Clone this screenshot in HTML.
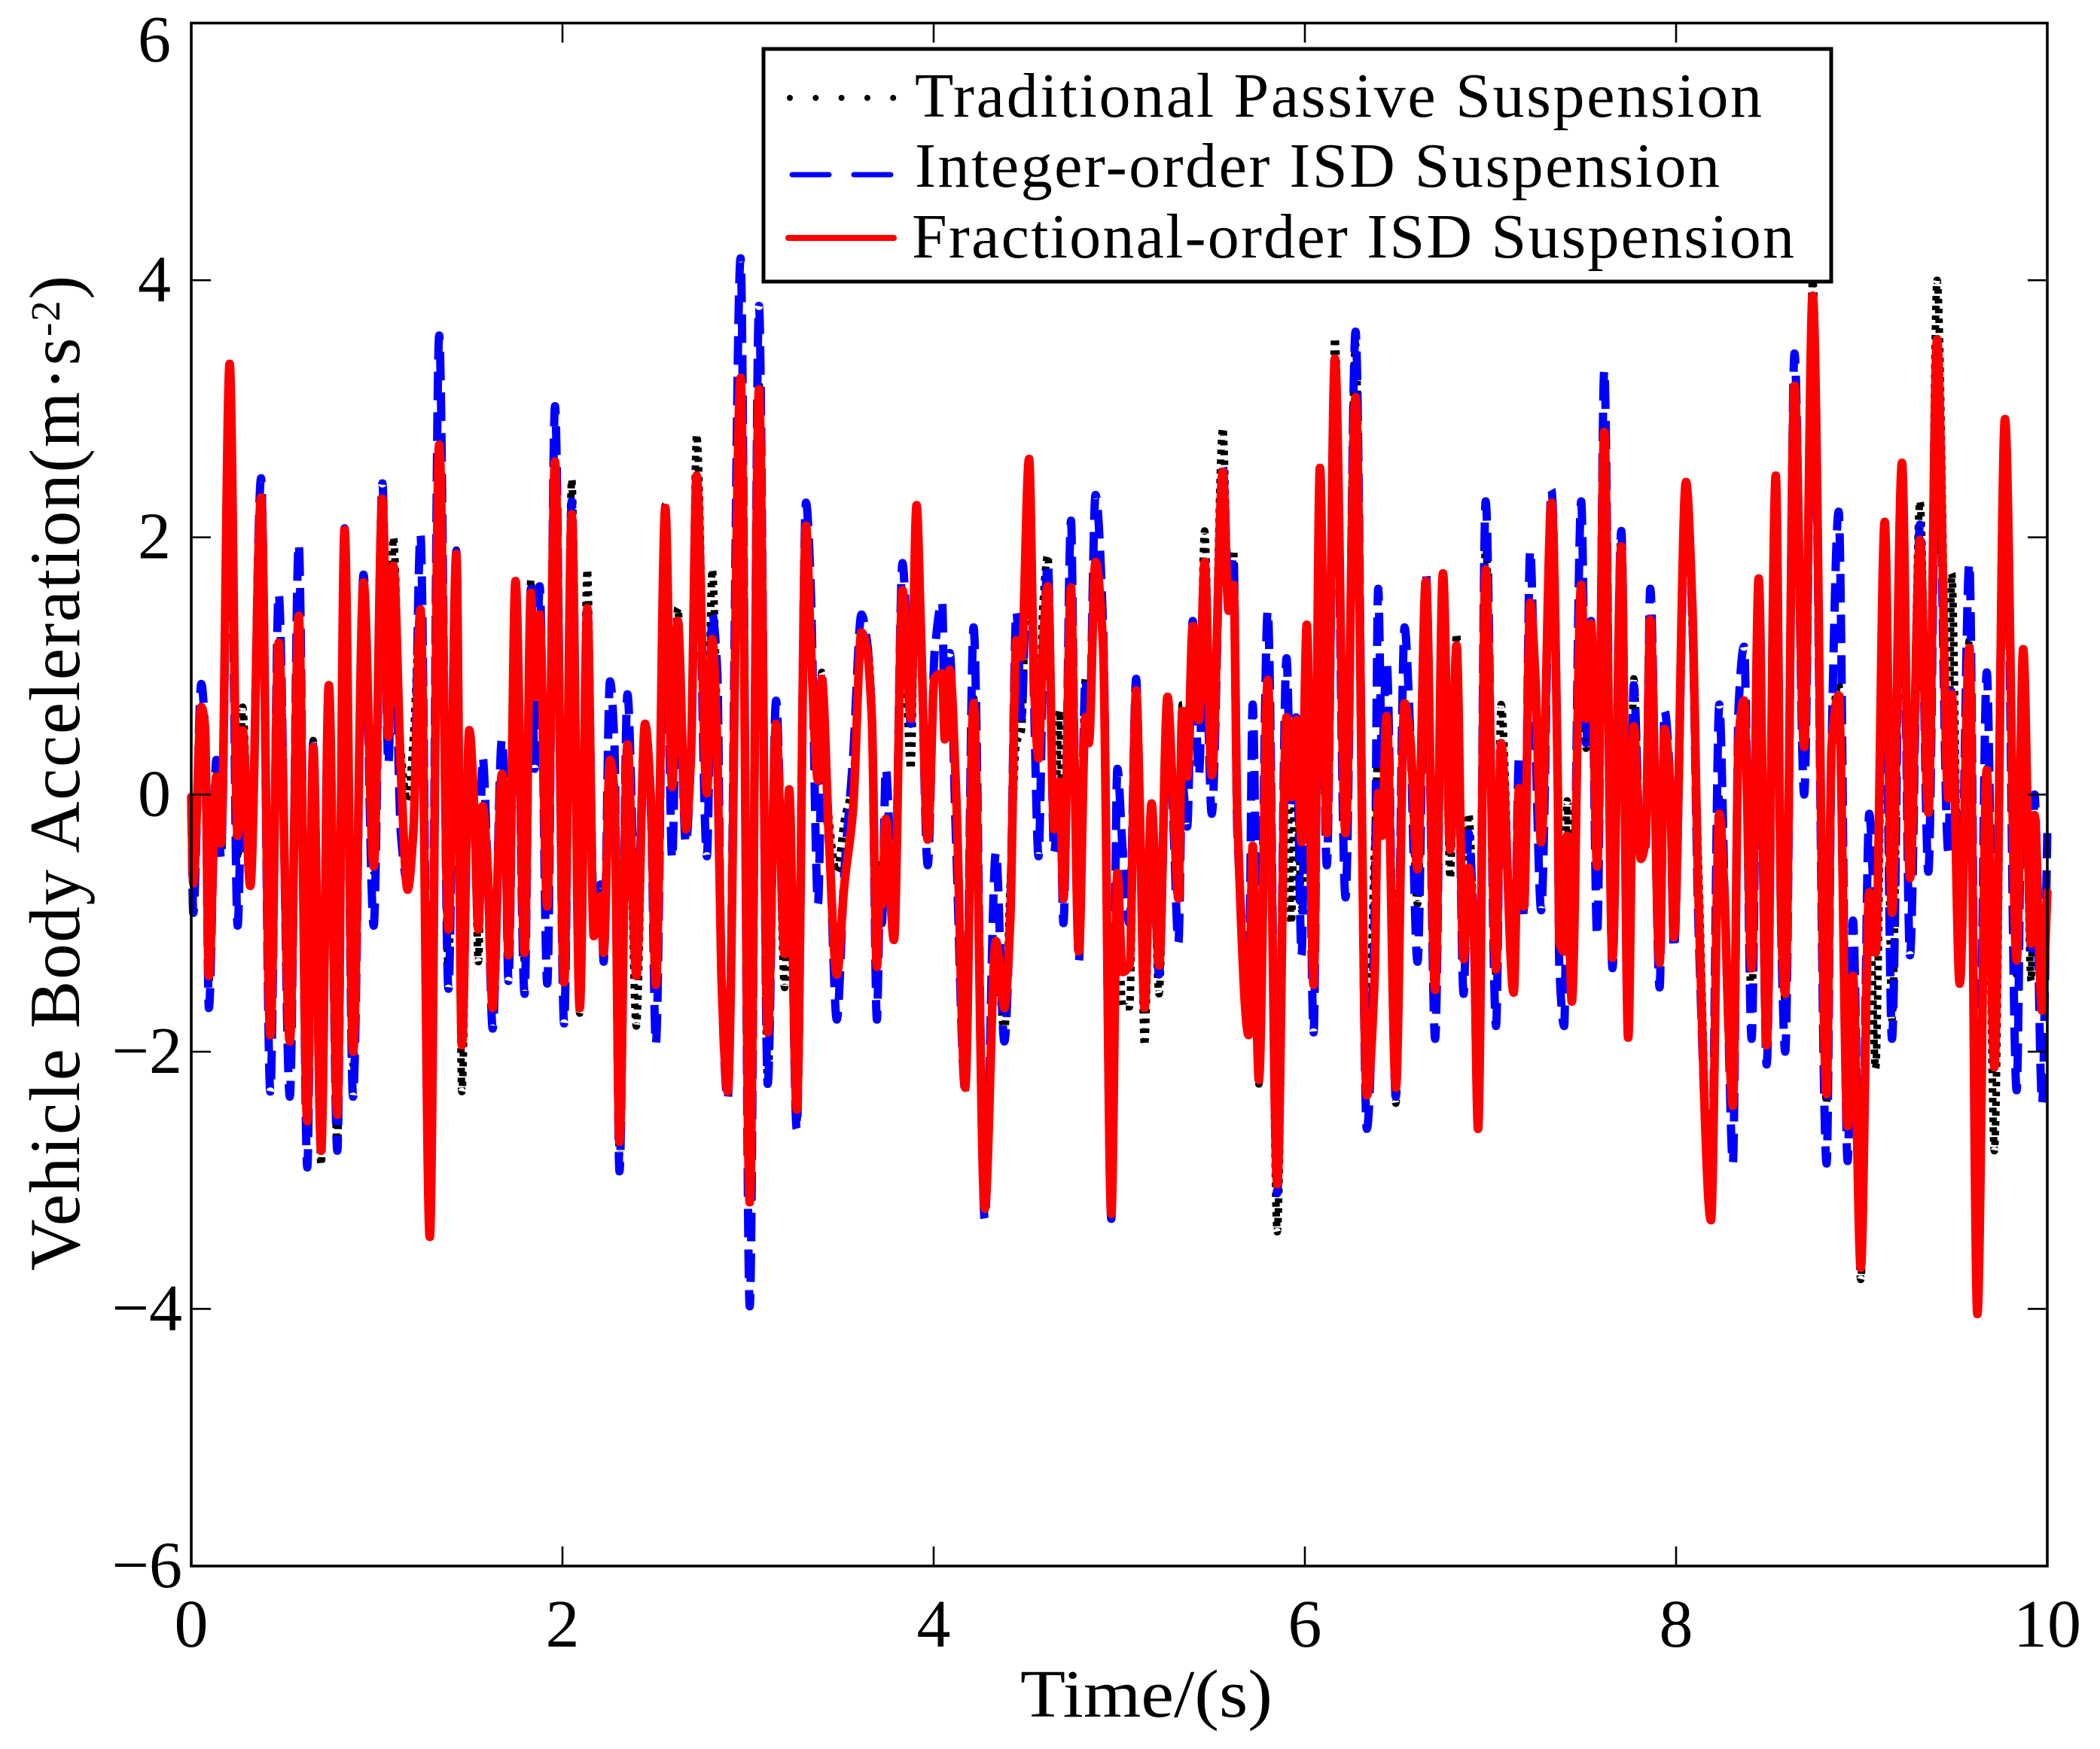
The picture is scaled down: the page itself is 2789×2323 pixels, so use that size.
<!DOCTYPE html>
<html lang="en">
<head>
<meta charset="utf-8">
<title>Vehicle Body Acceleration</title>
<style>
html,body{margin:0;padding:0;background:#fff;width:2789px;height:2323px;overflow:hidden}
svg{display:block;font-family:"Liberation Serif",serif;fill:#000}
</style>
</head>
<body>
<svg id="chart" xmlns="http://www.w3.org/2000/svg" width="2789" height="2323" viewBox="0 0 2789 2323">
  <rect x="0" y="0" width="2789" height="2323" fill="#fff"/>
  <g id="series-layer"></g>
  <g id="tick-layer"></g>
  <rect x="254" y="30.6" width="2465" height="2049.4" fill="none" stroke="#000" stroke-width="3.6"/>
  <g id="label-layer"></g>
  <text x="1355" y="2280" font-size="90" textLength="335" lengthAdjust="spacingAndGlyphs">Time/(s)</text>
  <text transform="translate(105 1688) rotate(-90)" font-size="95" textLength="1322">Vehicle Body Acceleration(m·s<tspan font-size="55" dy="-26">-2</tspan><tspan dy="26">)</tspan></text>
  <g>
    <rect x="1014" y="65" width="1418" height="309" fill="#fff" stroke="#000" stroke-width="5"/>
    <line x1="1049" y1="130" x2="1187" y2="130" stroke="#000" stroke-width="8" stroke-linecap="round" stroke-dasharray="0 34.3"/>
    <line x1="1052" y1="232" x2="1183" y2="232" stroke="#00f" stroke-width="7" stroke-linecap="round" stroke-dasharray="49 33"/>
    <line x1="1047" y1="316" x2="1187" y2="316" stroke="#f00" stroke-width="8" stroke-linecap="round"/>
    <text x="1215" y="155" font-size="84" textLength="1125">Traditional Passive Suspension</text>
    <text x="1215" y="248" font-size="84" textLength="1069">Integer-order ISD Suspension</text>
    <text x="1211" y="342" font-size="84" textLength="1172">Fractional-order ISD Suspension</text>
  </g>
</svg>
<script>
const xTickValues = [0, 2, 4, 6, 8, 10];
const yTickValues = [6, 4, 2, 0, -2, -4, -6];
const timeSeconds = [
0,.011,.054,.074,.095,.135,.16,.207,.25,.277,.318,.376,.426,.471,.531,.579,.625,.657,.70,.741,.787,.826,.872,.928,.983,1.03,1.062,1.089,1.129,1.166,1.197,1.235,1.285,1.336,1.386,1.428,
1.458,1.498,1.525,1.547,1.57,1.597,1.624,1.674,1.692,1.709,1.747,1.796,1.83,1.85,1.877,1.918,1.96,2.009,2.05,2.093,2.134,2.169,2.206,2.222,2.256,2.28,2.307,2.35,2.398,2.445,2.476,2.503,2.554,2.591,2.621,2.665,2.692,2.723,2.778,2.807,2.834,2.856,
2.89,2.96,3.009,3.059,3.106,3.151,3.197,3.221,3.262,3.312,3.336,3.377,3.397,3.437,3.478,3.519,3.566,3.611,3.64,3.667,3.694,3.711,3.721,3.742,3.786,3.832,3.877,3.908,3.931,3.968,4.005,4.046,4.06,4.087,4.12,4.17,4.215,4.275,
4.335,4.381,4.412,4.446,4.473,4.514,4.541,4.565,4.588,4.615,4.649,4.679,4.699,4.74,4.757,4.782,4.818,4.836,4.872,4.913,4.957,4.99,5.017,5.055,5.091,5.109,5.136,5.174,5.214,5.26,5.291,5.319,5.339,5.366,5.396,5.429,5.46,5.498,5.558,5.589,5.616,5.636,5.697,
5.719,5.752,5.8,5.851,5.901,5.926,5.953,5.982,6.01,6.047,6.081,6.118,6.162,6.219,6.273,6.334,6.375,6.395,6.415,6.44,6.49,6.537,6.567,6.607,6.652,6.702,6.744,6.783,6.817,6.855,6.882,6.909,6.933,6.974,7.03,7.057,7.125,
7.154,7.18,7.214,7.241,7.273,7.329,7.363,7.37,7.397,7.413,7.438,7.489,7.515,7.542,7.575,7.613,7.657,7.705,7.742,7.772,7.81,7.836,7.861,7.911,7.938,7.968,7.988,8.053,8.087,8.12,8.188,8.233,8.262,8.283,8.306,8.337,8.366,8.407,8.445,8.488,8.537,8.568,
8.588,8.638,8.69,8.736,8.811,8.838,8.876,8.924,8.953,8.995,9.041,9.075,9.124,9.163,9.217,9.26,9.314,9.359,9.406,9.467,9.485,9.528,9.58,9.623,9.674,9.715,9.772,9.835,9.87,9.913,9.931,9.972,10
];
const traditionalPassive = [
0,-.7,.7,.55,-1.45,.1,-.3,3.1,-.5,.68,-.7,2.3,-1.9,1.2,-1.95,1.4,-2.6,.42,-2.88,.87,-2.77,2.07,-2.1,1.65,-.6,2.35,.5,2,.35,-.05,.45,1.45,-3.3,2.7,-1.36,1.9,
-2.31,.5,-.1,-1.3,-.1,-.6,-1.7,.15,-.2,-1.3,1.6,-1.3,1.67,.8,1.4,-.9,2.6,-1.5,2.45,-1.7,1.75,-1.1,-.75,-1.2,.3,0,-2.8,.4,-1.8,.55,-.1,-1.5,2.25,.1,1.45,-.2,.3,2.8,.1,1.75,.5,-1.3,
-2.2,3.2,-3.2,3.2,-2.25,.55,-1.5,.05,-2.55,2.1,1.2,.1,.95,-.2,-.6,-.2,.1,1.25,1.2,.7,-1.3,-.5,-.8,-.2,-1.1,1.5,.2,2.25,1.3,-.3,.9,.95,.5,1,.1,-2.3,.75,-3.2,
-1.15,-1.85,-.7,.4,.5,2.6,.9,.3,1.45,1.86,-.3,.65,-.8,1.6,.4,-1.2,.9,.5,1.8,1.2,-3.2,-.6,-1.65,-1.65,.8,0,-1.95,-.1,-1.55,.75,-.1,-.8,.7,.2,1.2,.6,2.05,.15,2.85,1.5,1.9,-.1,-1.8,
-.4,-2.25,.9,-3.4,.6,-1,.55,-.9,1.3,-1.5,2.5,-.3,3.55,-.3,3.5,-2.3,-.45,.35,.2,.6,-2.4,.7,.4,-.85,1.6,-1.6,1.7,-.65,1.25,-1.2,-.15,-1,-2.55,1.95,-1.4,.7,-1.55,
.05,-.9,1.5,.95,-.45,2.2,0,-1,-.95,-.05,-1.6,1.65,.36,1.3,-.6,2.8,-1.25,2.05,-1.85,.9,-.45,-.3,1.35,-1.3,.5,.1,-1.15,2.35,1.3,-.5,-3.3,0,-.8,-1.8,-2.4,.4,.75,-1.65,1.65,-1.95,2.4,-1.1,
-1.6,3.15,.35,4,-2.4,.4,.87,-2.6,-1.4,-3.77,-.8,-2.13,2.1,-1.75,2.5,-.65,2.28,-.1,4,.2,1.72,-1.45,1.2,-3.9,.2,-2.77,2.85,-1.4,1.1,-1.45,-.2,-1.7,-.8
];
const integerOrder = [
-.1,-.92,.86,.5,-1.66,.27,-.5,3.26,-1.02,.3,-.71,2.46,-2.31,1.56,-2.35,1.95,-2.9,.42,-2.7,.86,-2.77,2.07,-2.35,1.71,-1.02,2.42,.24,1.74,-.3,-.69,-.3,2.02,-3.31,3.57,-1.51,1.89,
-1.9,.3,-.1,-.9,.29,-.6,-1.82,.43,-.2,-1.45,1.65,-1.55,1.6,.2,1.62,-1.47,3.02,-1.78,2.28,-1.66,1.4,-.9,-.7,-1.3,.88,.4,-2.93,.78,-1.1,.5,-.1,-1.94,2.23,-.5,1.3,-.38,.3,2.45,-.48,1.4,.96,-1.4,
-2.37,4.17,-3.98,3.8,-2.25,.73,-1.2,0,-2.6,2.27,1.7,-.85,.2,-.4,-1.75,-.6,.3,1.4,1.2,.6,-1.75,-.8,-1,.2,-1.1,1.8,.55,2.25,1.3,-.55,1.1,1.5,.5,1.1,-.35,-2.3,1.3,-3.3,
-.45,-1.92,-.9,1.42,.6,2.6,.7,-.48,.9,1.8,-.45,.1,-1,2.13,.5,-1.3,.9,.4,2.33,1.3,-3.3,.2,-.4,-1,.9,0,-1.5,-.1,-1.4,.7,-.2,-1.15,.1,-.25,1.35,.15,1.5,-.15,2.55,1.6,1.85,-.3,-1.5,
.7,-2,1.43,-3.1,1.06,-.1,.6,-1.25,1.3,-1.85,2.5,-.55,3.3,-.8,3.6,-2.6,-1,1.6,.3,1.04,-2.35,1.3,.5,-1.3,1.72,-1.9,1.7,-.4,1.1,-1.55,-.3,-1,-2.6,2.28,-1.8,.4,-1.5,
.3,-.95,1.9,.5,-.9,2.37,0,-1.3,-1.8,-.6,-1.55,2.28,.4,1.35,-1.1,3.3,-1.35,2.05,-1.9,.85,-.5,-.4,1.6,-1.5,.65,.1,-1.2,2.3,1.4,-1,-3.2,.7,-.8,-1.9,-2.87,.7,1.15,-1.9,1.6,-2.1,2.4,-1.2,
-2,3.43,0,3.8,-2.87,.4,2.2,-2.85,-.98,-3.7,-.15,-1,1.45,-1.9,2.5,-1.25,2.1,-.6,3.2,-.45,.8,-1.4,1.8,-3.6,.95,-2,2.9,-2.3,1.1,-1.2,0,-2.4,-.3
];
const fractionalOrder = [
-.02,-.69,.68,.53,-1.41,.14,-.38,3.35,-.32,.5,-.71,2.31,-1.87,1.18,-1.92,1.39,-2.54,.37,-2.77,.85,-2.49,2.06,-2,1.65,-.56,2.3,.45,1.78,.19,-.74,-.27,1.44,-3.44,2.72,-1.05,1.87,
-1.95,.5,-.12,-1.05,-.09,-.58,-1.66,.16,-.17,-1.25,1.66,-1.23,1.57,.76,1.4,-.87,2.59,-1.46,2.18,-1.66,1.45,-1.1,-.79,-1.23,.27,.01,-2.7,.39,-1.41,.55,-.02,-1.48,2.23,.06,1.35,-.27,.29,2.48,.01,1.21,.35,-1.38,
-2.31,3.24,-3.17,3.15,-1.85,.55,-1.24,.04,-2.45,2.09,1.24,.11,.9,-.38,-1.4,-.7,-.11,1.26,1.13,.59,-1.34,-.59,-.86,-.19,-1.13,1.59,.59,2.25,1.29,-.35,.91,.94,.43,.97,.05,-2.28,.71,-3.22,
-1.14,-1.66,-.99,1.2,1.07,2.61,.86,.28,1.14,1.62,-.27,.1,-.81,1.61,.35,-1.22,.6,.4,1.81,1.14,-3.26,-.61,-1.38,-1.33,.81,-.02,-1.66,-.07,-1.33,.76,-.07,-.81,.65,.14,1.31,.58,1.81,.15,2.51,1.43,1.63,-.17,-1.87,
-.4,-2.22,.89,-3.03,.6,-.02,.58,-.37,1.32,-1.48,2.54,-.3,3.39,-.3,3.09,-2.34,-1.46,.01,-.32,.61,-2.28,.71,.45,-.58,1.66,-1.52,1.72,-.43,1.16,-1.28,-.57,-.99,-2.6,1.75,-1.36,.4,-1.54,
.05,-.87,1.49,.94,-.37,2.27,.02,-1.14,-1.22,-.32,-1.61,1.63,.59,1.33,-.56,2.82,-1.27,1.93,-1.89,.53,-.5,-.35,1.36,-1.31,.51,.07,-1.11,2.43,1.49,-.77,-3.31,-.15,-.82,-1.82,-2.42,.44,.73,-1.35,1.68,-1.95,2.48,-1.08,
-1.55,3.18,.37,3.88,-2.33,.39,.77,-2.58,-1.41,-3.68,-.76,-1.23,2.12,-.92,2.58,-.65,1.98,-.14,3.54,-.03,.78,-1.47,1.14,-4.04,.19,-2.12,2.92,-1.29,1.13,-1.16,-.16,-1.68,-.76
];

const SVG_NS = 'http://www.w3.org/2000/svg';
const plot = {left: 254, right: 2719, top: 30.6, bottom: 2080};
function xScale(t) { return plot.left + (t - 0) / 10 * (plot.right - plot.left); }
function yScale(v) { return plot.bottom - (v + 6) / 12 * (plot.bottom - plot.top); }

function curvePath(times, values) {
  const px = times.map(xScale);
  const py = values.map(yScale);
  const n = px.length;
  const slopes = [];
  for (let i = 0; i < n - 1; i++) slopes.push((py[i + 1] - py[i]) / (px[i + 1] - px[i]));
  const tangents = [slopes[0]];
  for (let i = 1; i < n - 1; i++) {
    const a = slopes[i - 1], b = slopes[i];
    tangents.push(a * b <= 0 ? 0 : 2 * a * b / (a + b));
  }
  tangents.push(slopes[n - 2]);
  let d = 'M' + px[0].toFixed(1) + ' ' + py[0].toFixed(1);
  for (let i = 0; i < n - 1; i++) {
    const h = (px[i + 1] - px[i]) / 3;
    d += 'C' + (px[i] + h).toFixed(1) + ' ' + (py[i] + h * tangents[i]).toFixed(1) + ' ' +
      (px[i + 1] - h).toFixed(1) + ' ' + (py[i + 1] - h * tangents[i + 1]).toFixed(1) + ' ' +
      px[i + 1].toFixed(1) + ' ' + py[i + 1].toFixed(1);
  }
  return d;
}

const seriesLayer = document.getElementById('series-layer');

const passiveLine = document.createElementNS(SVG_NS, 'path');


passiveLine.setAttribute('d', curvePath(timeSeconds, traditionalPassive));
passiveLine.setAttribute('fill', 'none');
passiveLine.setAttribute('stroke', '#000');
passiveLine.setAttribute('stroke-width', '10');
passiveLine.setAttribute('stroke-dasharray', '6 7');
seriesLayer.appendChild(passiveLine);

const integerLine = document.createElementNS(SVG_NS, 'path');


integerLine.setAttribute('d', curvePath(timeSeconds, integerOrder));
integerLine.setAttribute('fill', 'none');
integerLine.setAttribute('stroke', '#00f');
integerLine.setAttribute('stroke-width', '11');
integerLine.setAttribute('stroke-dasharray', '38 16');
seriesLayer.appendChild(integerLine);

const fractionalLine = document.createElementNS(SVG_NS, 'path');


fractionalLine.setAttribute('d', curvePath(timeSeconds, fractionalOrder));
fractionalLine.setAttribute('fill', 'none');
fractionalLine.setAttribute('stroke', '#f00');
fractionalLine.setAttribute('stroke-width', '11.5');
fractionalLine.setAttribute('stroke-linejoin', 'round');
fractionalLine.setAttribute('stroke-linecap', 'round');
seriesLayer.appendChild(fractionalLine);

const tickLayer = document.getElementById('tick-layer');
const labelLayer = document.getElementById('label-layer');
const tickLength = 26;

function addTick(x1, y1, x2, y2) {
  const tick = document.createElementNS(SVG_NS, 'line');
  
  
  tick.setAttribute('x1', x1);
  tick.setAttribute('y1', y1);
  tick.setAttribute('x2', x2);
  tick.setAttribute('y2', y2);
  tick.setAttribute('stroke', '#000');
  tick.setAttribute('stroke-width', '2.6');
  tickLayer.appendChild(tick);
}

xTickValues.forEach(function (value) {
  const x = xScale(value);
  addTick(x, plot.bottom, x, plot.bottom - tickLength);
  addTick(x, plot.top, x, plot.top + tickLength);
  const label = document.createElementNS(SVG_NS, 'text');
  
  
  label.setAttribute('x', x);
  label.setAttribute('y', 2187);
  label.setAttribute('text-anchor', 'middle');
  label.setAttribute('font-size', '90');
  label.textContent = String(value);
  labelLayer.appendChild(label);
});

yTickValues.forEach(function (value) {
  const y = yScale(value);
  addTick(plot.left, y, plot.left + tickLength, y);
  addTick(plot.right, y, plot.right - tickLength, y);
  const label = document.createElementNS(SVG_NS, 'text');
  
  
  label.setAttribute('x', value < 0 ? 242 : 227);
  label.setAttribute('y', y + (value === 6 ? 51 : 28));
  label.setAttribute('text-anchor', 'end');
  label.setAttribute('font-size', '88');
  label.textContent = value < 0 ? '\u2212' + Math.abs(value) : String(value);
  labelLayer.appendChild(label);
});
</script>
</body>
</html>
